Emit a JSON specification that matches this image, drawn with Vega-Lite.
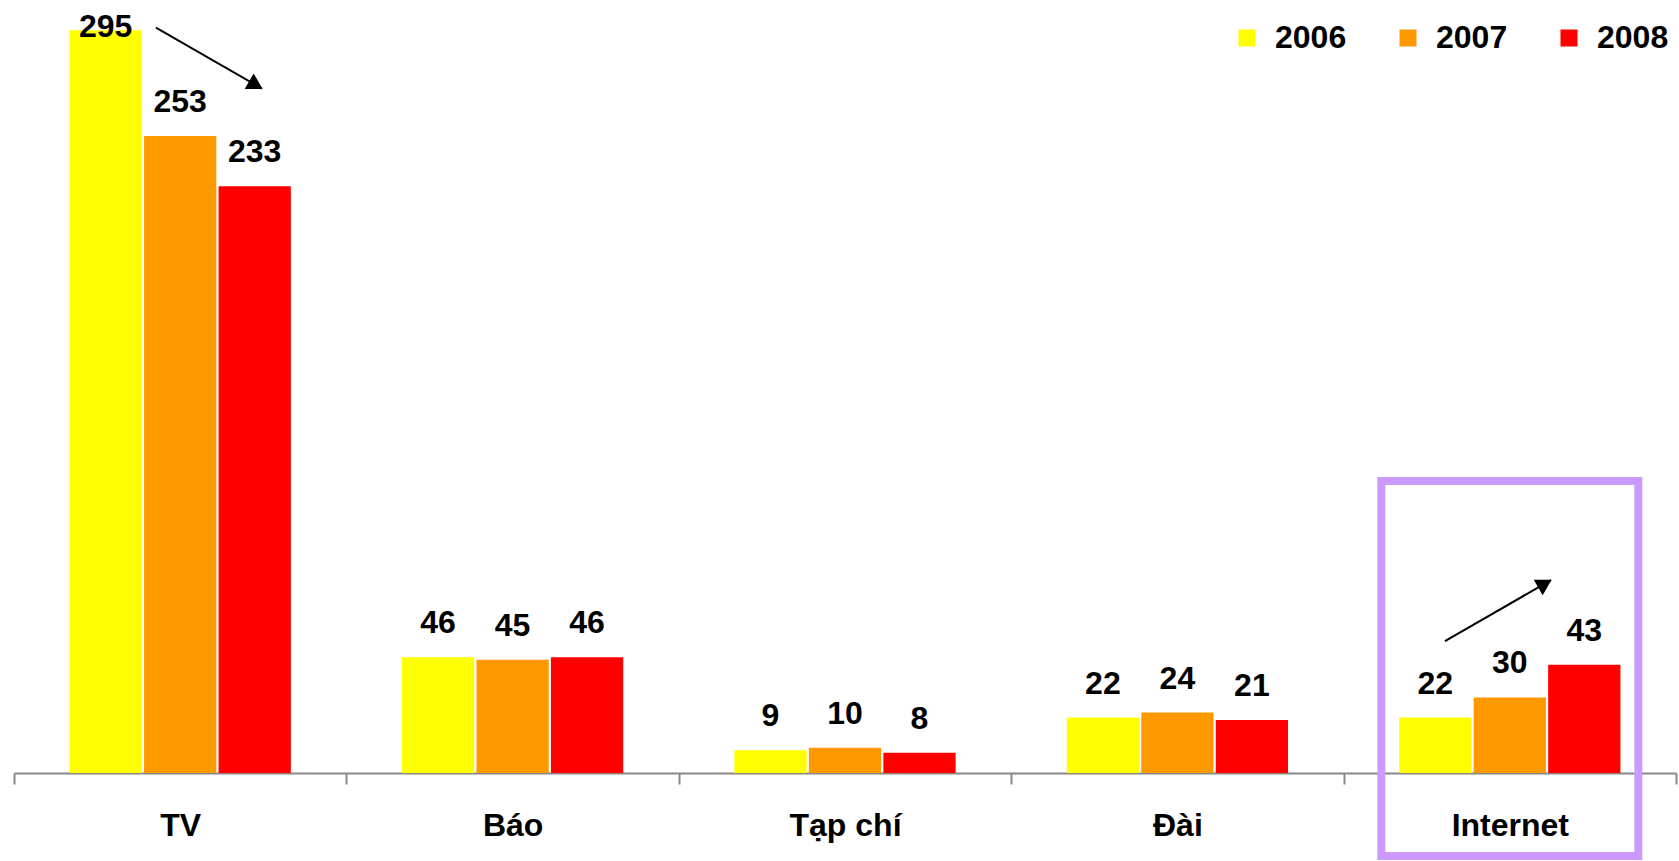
{
  "$schema": "https://vega.github.io/schema/vega-lite/v6.json",
  "width": 1662,
  "height": 773,
  "autosize": {"type": "none"},
  "padding": {"left": 14, "top": 0, "right": 3, "bottom": 88},
  "background": "white",
  "config": {"view": {"stroke": null}, "font": "Liberation Sans"},
  "datasets": {
    "media": [
      {"cat": "TV", "year": "2006", "value": 295},
      {"cat": "TV", "year": "2007", "value": 253},
      {"cat": "TV", "year": "2008", "value": 233},
      {"cat": "Báo", "year": "2006", "value": 46},
      {"cat": "Báo", "year": "2007", "value": 45},
      {"cat": "Báo", "year": "2008", "value": 46},
      {"cat": "Tạp chí", "year": "2006", "value": 9},
      {"cat": "Tạp chí", "year": "2007", "value": 10},
      {"cat": "Tạp chí", "year": "2008", "value": 8},
      {"cat": "Đài", "year": "2006", "value": 22},
      {"cat": "Đài", "year": "2007", "value": 24},
      {"cat": "Đài", "year": "2008", "value": 21},
      {"cat": "Internet", "year": "2006", "value": 22},
      {"cat": "Internet", "year": "2007", "value": 30},
      {"cat": "Internet", "year": "2008", "value": 43}
    ],
    "arrows": [
      {"name": "TV", "x": 0.427, "y": 296.0, "x2": 0.746, "y2": 271.8, "hx": 0.7277, "hy": 273.2, "angle": 120},
      {"name": "Internet", "x": 4.305, "y": 52.4, "x2": 4.624, "y2": 76.6, "hx": 4.6056, "hy": 75.2, "angle": 60}
    ]
  },
  "layer": [
    {
      "data": {"name": "media"},
      "layer": [
        {
          "mark": {"type": "bar"},
          "encoding": {
            "x": {
              "field": "cat", "type": "nominal",
              "scale": {"domain": ["TV", "Báo", "Tạp chí", "Đài", "Internet"], "paddingInner": 0, "paddingOuter": 0},
              "axis": {
                "title": null, "labelAngle": 0, "tickBand": "extent",
                "domainColor": "#888888", "domainWidth": 2,
                "tickColor": "#888888", "tickWidth": 2, "tickSize": 11,
                "labelFont": "Liberation Sans", "labelFontWeight": "bold", "labelFontSize": 32,
                "labelColor": "black", "labelPadding": 26
              }
            },
            "xOffset": {"field": "year", "type": "nominal", "scale": {"paddingInner": 0.03, "paddingOuter": 0.746}},
            "y": {"field": "value", "type": "quantitative", "scale": {"domain": [0, 307], "nice": false}, "axis": null},
            "color": {
              "field": "year", "type": "nominal",
              "scale": {"domain": ["2006", "2007", "2008"], "range": ["#FFFF00", "#FF9900", "#FF0000"]},
              "legend": {
                "orient": "none", "legendX": 1217, "legendY": 22, "direction": "horizontal", "title": null,
                "symbolType": "square", "symbolSize": 289, "symbolStrokeWidth": 0,
                "labelFontSize": 32, "labelFontWeight": "bold", "labelFont": "Liberation Sans",
                "labelColor": "black", "labelOffset": 12, "columnPadding": 45, "padding": 0
              }
            }
          }
        },
        {
          "transform": [{"filter": "datum.value <= 290"}],
          "mark": {"type": "text", "fontSize": 32, "fontWeight": "bold", "font": "Liberation Sans", "baseline": "alphabetic", "align": "center", "dy": -24, "color": "black"},
          "encoding": {
            "x": {"field": "cat", "type": "nominal"},
            "xOffset": {"field": "year", "type": "nominal"},
            "y": {"field": "value", "type": "quantitative"},
            "text": {"field": "value", "type": "quantitative"}
          }
        },
        {
          "transform": [{"filter": "datum.value > 290"}],
          "mark": {"type": "text", "fontSize": 32, "fontWeight": "bold", "font": "Liberation Sans", "baseline": "alphabetic", "align": "center", "dy": 7, "color": "black"},
          "encoding": {
            "x": {"field": "cat", "type": "nominal"},
            "xOffset": {"field": "year", "type": "nominal"},
            "y": {"field": "value", "type": "quantitative"},
            "text": {"field": "value", "type": "quantitative"}
          }
        },
        {
          "data": {"values": [{"box": "Internet"}]},
          "mark": {"type": "bar", "width": 257, "fill": null, "fillOpacity": 0, "stroke": "#CC99FF", "strokeWidth": 8, "clip": false},
          "encoding": {
            "x": {"field": "box", "type": "nominal"},
            "y": {"datum": 116},
            "y2": {"datum": -33}
          }
        }
      ]
    },
    {
      "data": {"name": "arrows"},
      "layer": [
        {
          "mark": {"type": "rule", "color": "black", "strokeWidth": 2},
          "encoding": {
            "x": {"field": "x", "type": "quantitative", "scale": {"domain": [0, 5], "nice": false, "zero": false}, "axis": null},
            "y": {"field": "y", "type": "quantitative"},
            "x2": {"field": "x2"},
            "y2": {"field": "y2"}
          }
        },
        {
          "mark": {"type": "point", "shape": "triangle-up", "filled": true, "color": "black", "size": 320, "opacity": 1},
          "encoding": {
            "x": {"field": "hx", "type": "quantitative"},
            "y": {"field": "hy", "type": "quantitative"},
            "angle": {"field": "angle", "type": "quantitative", "scale": null}
          }
        }
      ]
    }
  ],
  "resolve": {"scale": {"x": "independent"}}
}
